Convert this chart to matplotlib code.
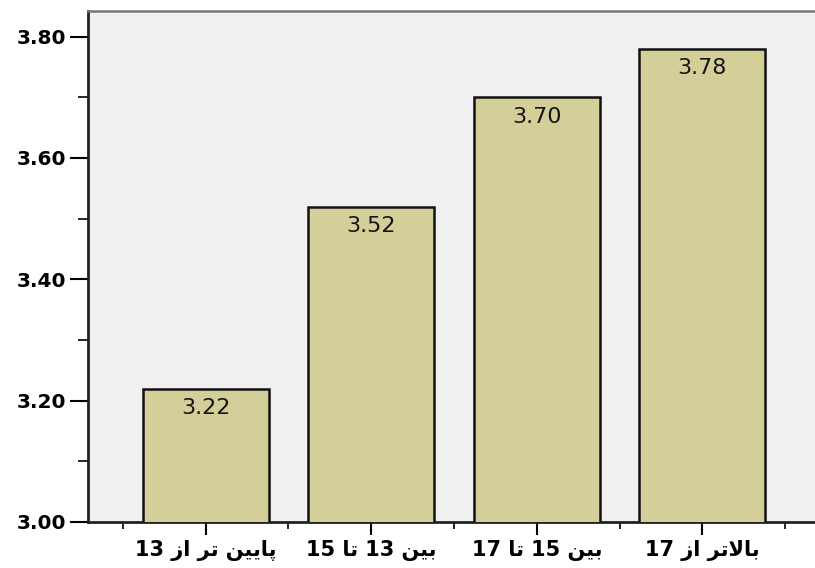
import matplotlib
matplotlib.use("Agg")
import matplotlib.pyplot as plt
from matplotlib.ticker import MultipleLocator, FixedLocator

categories = ["پایین تر از 13", "بین 13 تا 15", "بین 15 تا 17", "بالاتر از 17"]
values = [3.22, 3.52, 3.70, 3.78]
value_labels = ["3.22", "3.52", "3.70", "3.78"]
yticks = [3.00, 3.20, 3.40, 3.60, 3.80]
ytick_labels = ["3.00", "3.20", "3.40", "3.60", "3.80"]

# --- minimal Arabic/Persian shaping (isolated, final, initial, medial) ---
FORMS = {
    "\u0627": ("\uFE8D", "\uFE8E", None, None),
    "\u0628": ("\uFE8F", "\uFE90", "\uFE91", "\uFE92"),
    "\u062A": ("\uFE95", "\uFE96", "\uFE97", "\uFE98"),
    "\u0631": ("\uFEAD", "\uFEAE", None, None),
    "\u0632": ("\uFEAF", "\uFEB0", None, None),
    "\u0644": ("\uFEDD", "\uFEDE", "\uFEDF", "\uFEE0"),
    "\u0646": ("\uFEE5", "\uFEE6", "\uFEE7", "\uFEE8"),
    "\u067E": ("\uFB56", "\uFB57", "\uFB58", "\uFB59"),
    "\u06CC": ("\uFBFC", "\uFBFD", "\uFBFE", "\uFBFF"),
}
LAM_ALEF = ("\uFEFB", "\uFEFC")


def joins_left(ch):
    f = FORMS.get(ch)
    return f is not None and f[2] is not None


def shape_word(word):
    chars = list(word)
    out = []
    i = 0
    n = len(chars)
    while i < n:
        c = chars[i]
        prev = chars[i - 1] if i > 0 else None
        connect_prev = prev is not None and joins_left(prev)
        if c == "\u0644" and i + 1 < n and chars[i + 1] == "\u0627":
            out.append(LAM_ALEF[1] if connect_prev else LAM_ALEF[0])
            i += 2
            continue
        if c not in FORMS:
            out.append(c)
            i += 1
            continue
        iso, fin, ini, med = FORMS[c]
        nxt = chars[i + 1] if i + 1 < n else None
        connect_next = joins_left(c) and nxt is not None and nxt in FORMS
        if connect_prev and connect_next:
            out.append(med)
        elif connect_prev:
            out.append(fin)
        elif connect_next:
            out.append(ini)
        else:
            out.append(iso)
        i += 1
    return "".join(out)


def visual(text):
    words = text.split(" ")
    res = []
    for w in reversed(words):
        if any(ch in FORMS for ch in w):
            res.append(shape_word(w)[::-1])
        else:
            res.append(w)
    return " ".join(res)


fig = plt.figure(figsize=(8.15, 5.68), dpi=100)
fig.patch.set_facecolor("white")
ax = fig.add_axes([0.108, 0.081, 0.892, 0.9])
ax.set_facecolor("#F0F0F0")

x = list(range(len(categories)))
bars = ax.bar(x, values, width=0.76, bottom=0, color="#D4CF98",
              edgecolor="#111111", linewidth=1.8, zorder=3)

ax.set_xlim(-0.71, 3.68)
ax.set_ylim(3.0, 3.8426)

for xi, v, lab in zip(x, values, value_labels):
    ax.annotate(lab, xy=(xi, v), xytext=(0, -7), textcoords="offset points",
                ha="center", va="top", fontsize=16,
                family=["DejaVu Sans"], color="#151515",
                zorder=4)

ax.yaxis.set_major_locator(FixedLocator(yticks))
ax.set_yticklabels(ytick_labels)
ax.yaxis.set_minor_locator(MultipleLocator(0.1))
ax.tick_params(axis="y", which="major", length=13, width=1.5, labelsize=14.5,
               pad=3, direction="out")
ax.tick_params(axis="y", which="minor", length=7, width=1.2, direction="out")
for t in ax.get_yticklabels():
    t.set_fontweight("bold")
    t.set_family(["DejaVu Sans"])

ax.set_xticks(x)
ax.set_xticklabels([visual(c) for c in categories])
ax.xaxis.set_minor_locator(FixedLocator([-0.5, 0.5, 1.5, 2.5, 3.5]))
ax.tick_params(axis="x", which="major", length=9, width=1.5, labelsize=15,
               pad=4, direction="out")
ax.tick_params(axis="x", which="minor", length=5, width=1.2, direction="out")
for t in ax.get_xticklabels():
    t.set_fontweight("bold")
    t.set_family(["DejaVu Sans"])

for side in ["left", "bottom"]:
    ax.spines[side].set_color("#222222")
    ax.spines[side].set_linewidth(2)
ax.spines["top"].set_color("#777777")
ax.spines["top"].set_linewidth(1.8)
ax.spines["right"].set_visible(False)

fig.savefig("out.png", dpi=100, facecolor="white")
